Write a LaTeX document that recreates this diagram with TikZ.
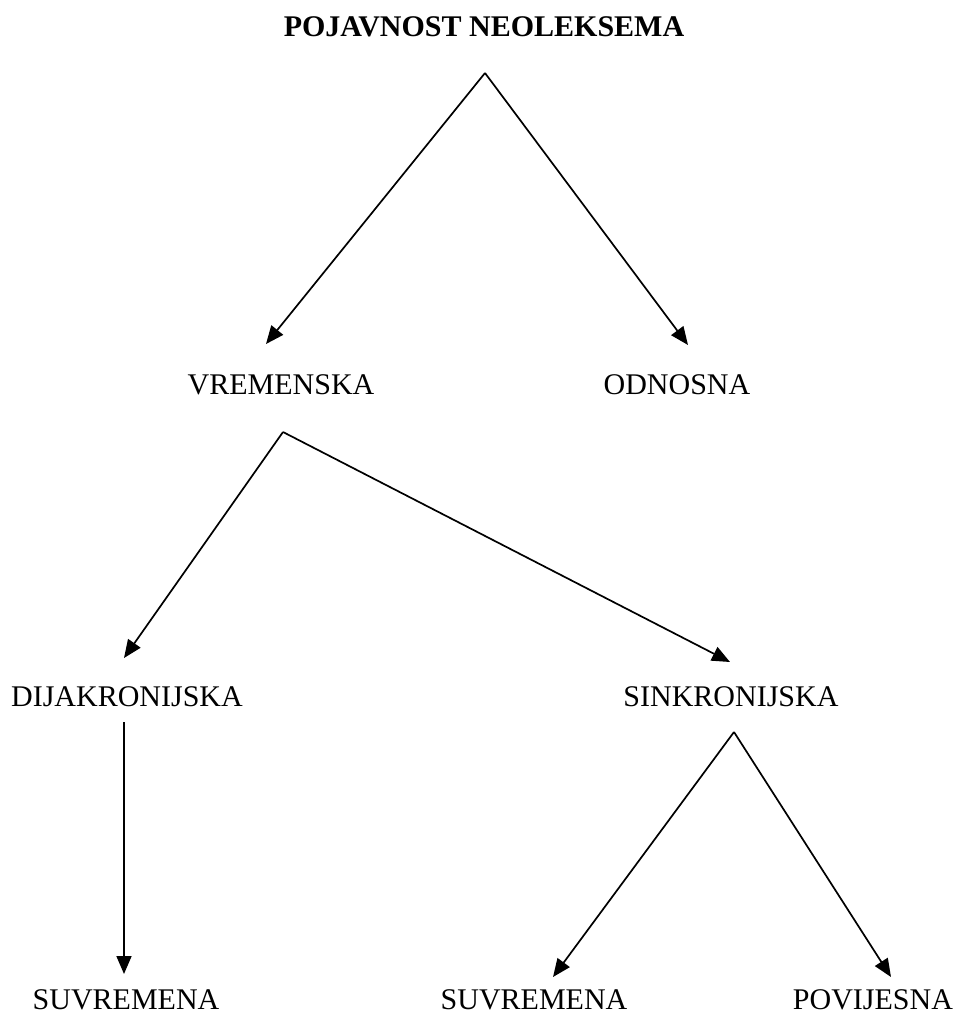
\documentclass[tikz,border=0pt]{standalone}
\usepackage{fontspec}
\setmainfont{Liberation Serif}
\usetikzlibrary{positioning}
\usetikzlibrary{arrows.meta}
\tikzstyle{lbl} = [inner sep=0pt, font=\fontsize{30}{36}\selectfont]
\tikzstyle{arrow} = [line width=1.7pt,-{Triangle[length=18pt,width=15pt]}]

\begin{document}
\begin{tikzpicture}[x=1pt,y=-1pt]
      \useasboundingbox (0,0) rectangle (972,1023);
      %%%%%%%%%%%%%%%%%%%%%%%%%%%%%%%%%%%%%%%
      \draw (484,27) node (root) [lbl] {\textbf{POJAVNOST NEOLEKSEMA}};
      \draw (281,385) node (vrem) [lbl] {VREMENSKA};
      \draw (677,385) node (odn) [lbl] {ODNOSNA};
      \draw (127,697) node (dija) [lbl] {DIJAKRONIJSKA};
      \draw (731,697) node (sink) [lbl] {SINKRONIJSKA};
      \draw (126,1000) node (suv1) [lbl] {SUVREMENA};
      \draw (534,1000) node (suv2) [lbl] {SUVREMENA};
      \draw (873,1000) node (povi) [lbl] {POVIJESNA};
      % start and end points of the arrows
      \coordinate (root-s) at (485,73);
      \coordinate (vrem-e) at (266,344);
      \coordinate (odn-e) at (688,345);
      \coordinate (vrem-s) at (283,432);
      \coordinate (dija-e) at (124,658);
      \coordinate (sink-e) at (730,662);
      \coordinate (dija-s) at (124,722);
      \coordinate (suv1-e) at (124,974);
      \coordinate (sink-s) at (734,732);
      \coordinate (suv2-e) at (553,977);
      \coordinate (povi-e) at (891,977);
      \draw[arrow] (root-s)--(vrem-e);
      \draw[arrow] (root-s)--(odn-e);
      \draw[arrow] (vrem-s)--(dija-e);
      \draw[arrow] (vrem-s)--(sink-e);
      \draw[arrow] (dija-s)--(suv1-e);
      \draw[arrow] (sink-s)--(suv2-e);
      \draw[arrow] (sink-s)--(povi-e);
      \end{tikzpicture}
\end{document}
